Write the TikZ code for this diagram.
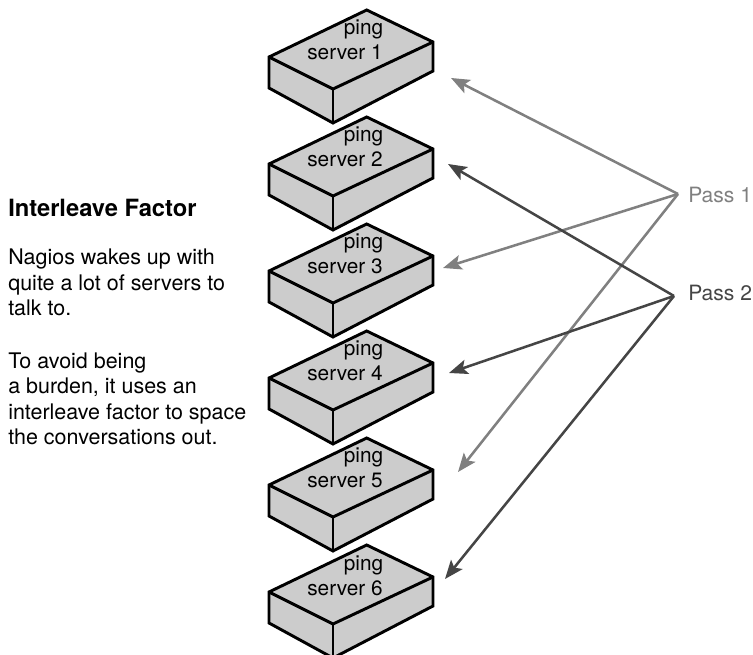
\documentclass[tikz,border=0pt]{standalone}
\usepackage{fontspec}
\setmainfont{TeX Gyre Heros}
\usetikzlibrary{arrows.meta}
\definecolor{boxfill}{gray}{0.8}
\definecolor{passone}{gray}{0.5}
\definecolor{passtwo}{gray}{0.27}
\tikzset{
  x=0.75pt,y=-0.75pt,
  boxline/.style={draw=black,line width=2.2pt,line join=miter,fill=boxfill},
  edgeline/.style={draw=black,line width=2.2pt,line join=miter},
  srvtext/.style={inner sep=0pt,font=\fontsize{15.6}{18}\selectfont,anchor=base},
  label/.style={inner sep=0pt,anchor=base west,font=\fontsize{15.8}{19.1}\selectfont},
  body/.style={inner sep=0pt,anchor=north west,align=left,font=\fontsize{16.1}{19.1}\selectfont},
  arrowone/.style={draw=passone,line width=1.9pt,-{Stealth[length=14pt,width=11pt,inset=3pt]}},
  arrowtwo/.style={draw=passtwo,line width=1.9pt,-{Stealth[length=14pt,width=11pt,inset=3pt]}},
}
\newcommand{\srvbox}[3]{%
  \begin{scope}[shift={(0,#1)}]
    \path[boxline] (269,47) -- (366.7,0) -- (433,32) -- (433,61) -- (333,113) -- (269,78) -- cycle;
    \path[edgeline] (269,47) -- (333,79) -- (433,32);
    \path[edgeline] (333,79) -- (333,113);
    \node[srvtext] (ping#3) at (363.5,25) {ping};
    \node[srvtext] (srv#3) at (345,#2) {server #3};
  \end{scope}}
\begin{document}
\begin{tikzpicture}
\useasboundingbox (0,0) rectangle (753,655);
\clip (0,0) rectangle (753,655);
\srvbox{10}{50}{1}
\srvbox{117}{50}{2}
\srvbox{224}{50}{3}
\srvbox{331}{50}{4}
\srvbox{438}{50}{5}
\srvbox{545}{50}{6}
\node[label,anchor=base west,font=\fontsize{17.8}{19.1}\selectfont] (title) at (8,217) {\bfseries Interleave Factor};
\node[body] (para1) at (8,249) {Nagios wakes up with\\quite a lot of servers to\\talk to.};
\node[body] (para2) at (8,352.5) {To avoid being\\a burden, it uses an\\interleave factor to space\\the conversations out.};
\node[label,text=passone] (pass1) at (688,203) {Pass 1};
\node[label,text=passtwo] (pass2) at (688,301) {Pass 2};
\coordinate (o1) at (678,194);
\coordinate (o2) at (674,296);
\coordinate (t1) at (451,78);
\coordinate (t3) at (443,268);
\coordinate (t5) at (458,472);
\coordinate (t2) at (448,164);
\coordinate (t4) at (449,373);
\coordinate (t6) at (445,579);
\draw[arrowone] (o1) -- (t1);
\draw[arrowone] (o1) -- (t3);
\draw[arrowone] (o1) -- (t5);
\draw[arrowtwo] (o2) -- (t2);
\draw[arrowtwo] (o2) -- (t4);
\draw[arrowtwo] (o2) -- (t6);
\end{tikzpicture}
\end{document}
